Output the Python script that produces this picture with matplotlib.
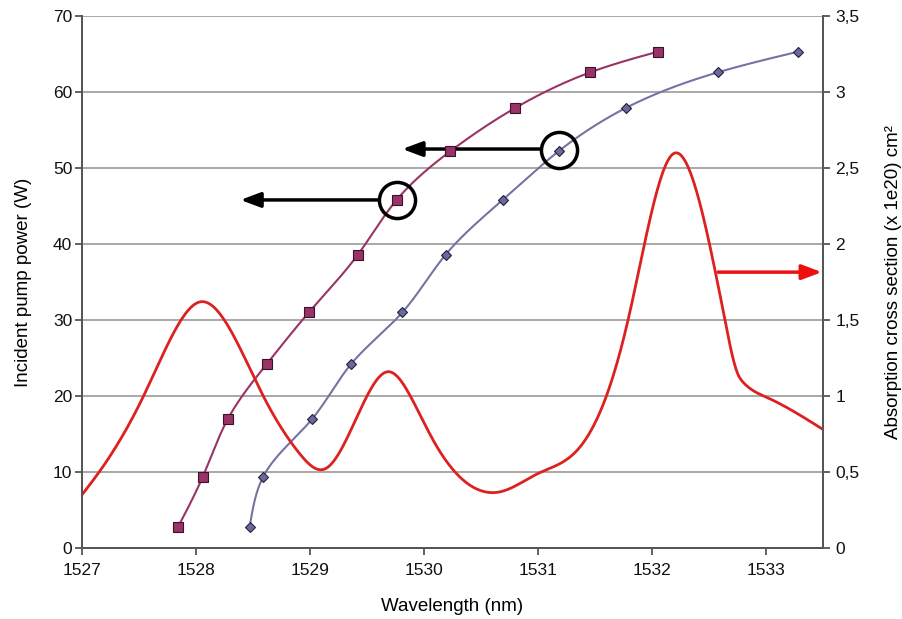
import numpy as np
import matplotlib.pyplot as plt
from matplotlib.ticker import FuncFormatter

plt.rcParams['font.family'] = ['Liberation Sans', 'DejaVu Sans']

# Данные: мощность накачки (левая ось)
power = [2.7, 9.4, 17.0, 24.2, 31.0, 38.6, 45.8, 52.2, 57.9, 62.6, 65.3]
wl_sq = [1527.84, 1528.06, 1528.28, 1528.62, 1528.99, 1529.42, 1529.76,
         1530.23, 1530.80, 1531.46, 1532.05]
wl_dm = [1528.47, 1528.59, 1529.02, 1529.36, 1529.81, 1530.19, 1530.69,
         1531.18, 1531.77, 1532.58, 1533.28]

# Сечение поглощения (правая ось)
wl_abs = [1527.0, 1527.16, 1527.54, 1527.80, 1528.04, 1528.32, 1528.59,
          1528.91, 1529.13, 1529.50, 1529.69, 1529.88, 1530.08, 1530.67,
          1531.00, 1531.34, 1531.60, 1531.79, 1532.18, 1532.51, 1532.64,
          1532.75, 1532.80, 1533.01, 1533.50]
sigma = [0.35, 0.51, 1.00, 1.41, 1.62, 1.41, 1.00, 0.62, 0.52, 1.00, 1.16,
         1.00, 0.71, 0.37, 0.49, 0.64, 1.00, 1.50, 2.59, 1.98, 1.50, 1.15,
         1.09, 0.99, 0.78]


def spline(t, y, ts):
    '''Натуральный кубический сплайн y(t) в точках ts'''
    t = np.asarray(t, float)
    y = np.asarray(y, float)
    N = len(t)
    h = np.diff(t)
    A = np.zeros((N, N))
    b = np.zeros(N)
    A[0, 0] = A[-1, -1] = 1
    for i in range(1, N - 1):
        A[i, i - 1] = h[i - 1]
        A[i, i] = 2 * (h[i - 1] + h[i])
        A[i, i + 1] = h[i]
        b[i] = 6 * ((y[i + 1] - y[i]) / h[i] - (y[i] - y[i - 1]) / h[i - 1])
    M = np.linalg.solve(A, b)
    k = np.clip(np.searchsorted(t, ts) - 1, 0, N - 2)
    t0 = ts - t[k]
    t1 = t[k + 1] - ts
    hk = h[k]
    return (M[k] * t1 ** 3 / (6 * hk) + M[k + 1] * t0 ** 3 / (6 * hk)
            + (y[k] / hk - M[k] * hk / 6) * t1
            + (y[k + 1] / hk - M[k + 1] * hk / 6) * t0)


def smooth_x(x, y, n=800):
    '''Сглаживание y(x) для кривой поглощения'''
    xs = np.linspace(x[0], x[-1], n)
    return xs, spline(x, y, xs)


def smooth_par(x, y, sx=114.0, sy=7.61, n=600):
    '''Параметрическое сглаживание (как сглаженная линия в Excel)'''
    x = np.asarray(x, float)
    y = np.asarray(y, float)
    d = np.hypot(np.diff(x) * sx, np.diff(y) * sy)
    t = np.concatenate([[0], np.cumsum(d)])
    ts = np.linspace(0, t[-1], n)
    return spline(t, x, ts), spline(t, y, ts)


fig = plt.figure(figsize=(9.02, 6.19), dpi=100)
ax = fig.add_axes([0.0909, 0.1147, 0.8215, 0.8594])
ax2 = ax.twinx()

# Сетка
ax.set_axisbelow(True)
ax.grid(True, axis='y', color='#999999', linewidth=1.2)
ax.grid(False, axis='x')

# Красная кривая
sx, sy = smooth_x(wl_abs, sigma)
ax2.plot(sx, sy, color='#dd2020', linewidth=2, zorder=2)

# Кривые мощности
sx, sy = smooth_par(wl_sq, power)
ax.plot(sx, sy, color='#993366', linewidth=1.5, zorder=3)
ax.plot(wl_sq, power, 's', color='#993366', markeredgecolor='#3a1030',
        markersize=7, markeredgewidth=0.8, zorder=4)
sx, sy = smooth_par(wl_dm, power)
ax.plot(sx, sy, color='#7474a4', linewidth=1.5, zorder=3)
ax.plot(wl_dm, power, 'D', color='#6a6a9a', markeredgecolor='#202040',
        markersize=5.5, markeredgewidth=0.8, zorder=4)

# Стрелки и кружки
ax.plot([1529.76], [45.8], 'o', markersize=26, markerfacecolor='none',
        markeredgecolor='black', markeredgewidth=2.5, zorder=5)
ax.plot([1531.18], [52.4], 'o', markersize=26, markerfacecolor='none',
        markeredgecolor='black', markeredgewidth=2.5, zorder=5)
arrow = dict(arrowstyle='-|>,head_length=1.2,head_width=0.45', color='black',
             linewidth=2.5, shrinkA=0, shrinkB=0)
ax.annotate('', xy=(1528.39, 45.8), xytext=(1529.6, 45.8), arrowprops=arrow)
ax.annotate('', xy=(1529.81, 52.5), xytext=(1531.03, 52.5), arrowprops=arrow)
arrow_r = dict(arrow, color='#ee1010')
ax.annotate('', xy=(1533.49, 36.3), xytext=(1532.58, 36.3), arrowprops=arrow_r)

# Оси
ax.set_xlim(1527, 1533.5)
ax.set_ylim(0, 70)
ax2.set_ylim(0, 3.5)
ax.set_xticks(np.arange(1527, 1534))
ax.set_yticks(np.arange(0, 71, 10))
ax2.set_yticks(np.arange(0, 3.51, 0.5))
ax2.yaxis.set_major_formatter(
    FuncFormatter(lambda v, p: ('%g' % v).replace('.', ',')))

for a in (ax, ax2):
    for s in a.spines.values():
        s.set_color('#555555')
        s.set_linewidth(1.3)
    a.spines['top'].set_visible(False)
    a.tick_params(direction='out', length=5, width=1.3, color='#555555',
                  labelsize=12.5, labelcolor='#111111')
ax.tick_params(axis='y', pad=2)
ax.tick_params(axis='x', pad=6)
ax2.tick_params(axis='y', pad=4)

ax.set_xlabel('Wavelength (nm)', fontsize=13.5, labelpad=14)
ax.set_ylabel('Incident pump power (W)', fontsize=13.5, labelpad=15)
ax2.set_ylabel('Absorption cross section (x 1e20) cm²', fontsize=13.5,
               labelpad=18)

fig.savefig('out.png', dpi=100)
